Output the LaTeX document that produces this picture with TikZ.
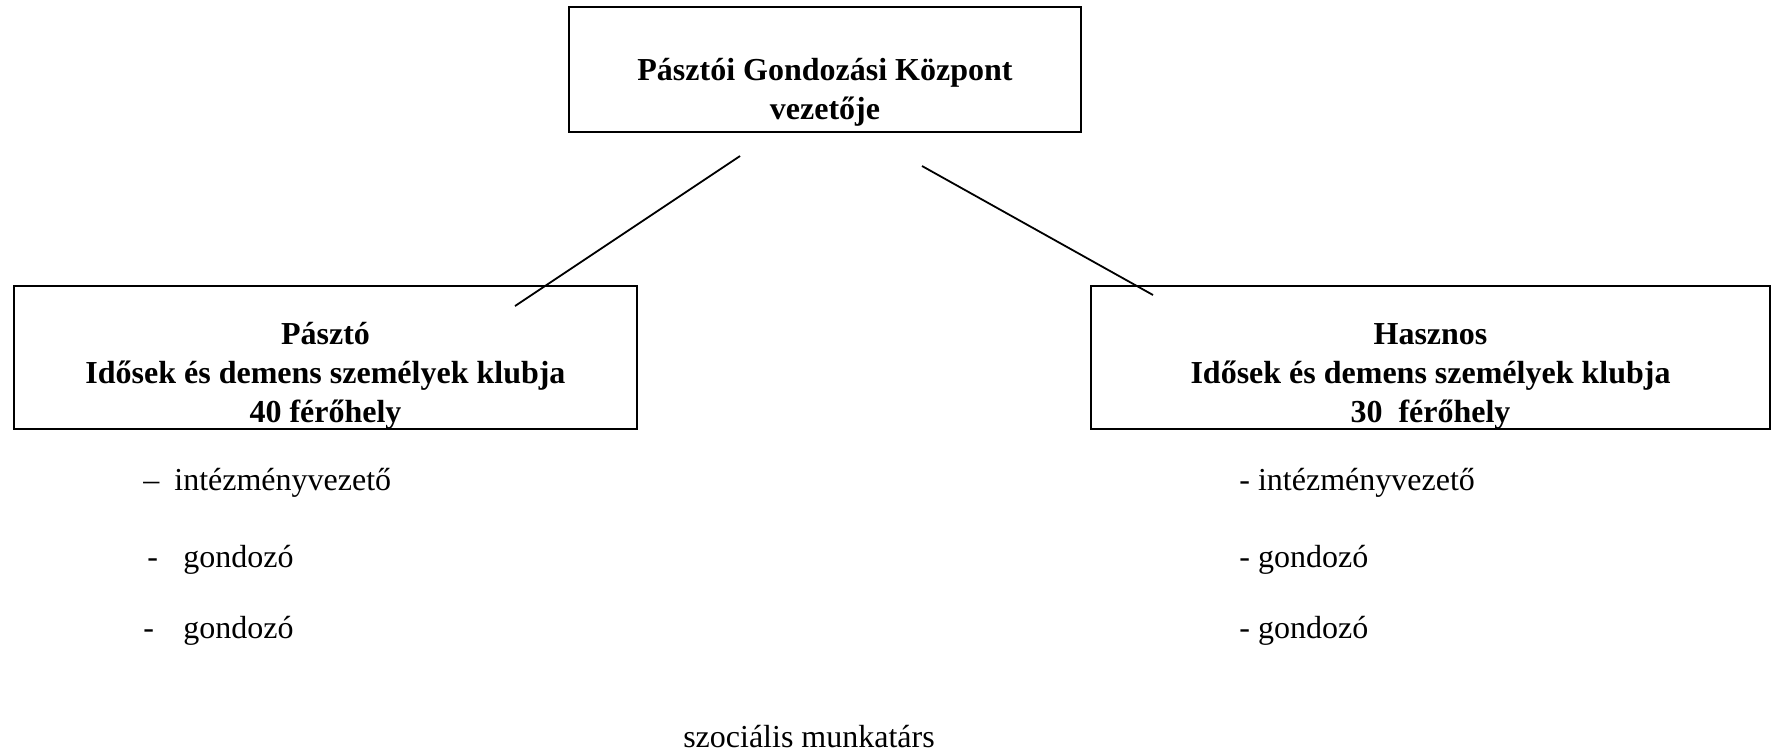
\documentclass[tikz,border=0pt]{standalone}
\usepackage{fontspec}
\setmainfont{Liberation Serif}
\begin{document}
\begin{tikzpicture}[x=0.5pt,y=-0.5pt,
 box/.style={draw, line width=1.2pt, inner sep=0pt},
 bt/.style={font=\fontsize{16}{19.5}\selectfont\bfseries, align=center, inner sep=0pt},
 it/.style={font=\fontsize{16}{19}\selectfont, anchor=base west, inner sep=0pt},
 conn/.style={line width=0.9pt}]
\useasboundingbox (0,0) rectangle (1771,752);
% boxes
\node[box, minimum width=256pt, minimum height=62.5pt] (top) at (825,69.5) {};
\node[bt] (toptext) at (825,92) {Pásztói Gondozási Központ\\vezetője};
\node[box, minimum width=311.5pt, minimum height=71.5pt] (left) at (325.5,357.5) {};
\node[bt] (lefttext) at (325.5,376) {Pásztó\\Idősek és demens személyek klubja\\40 férőhely};
\node[box, minimum width=339.5pt, minimum height=71.5pt] (right) at (1430.5,357.5) {};
\node[bt] (righttext) at (1430.5,376) {Hasznos\\Idősek és demens személyek klubja\\30\ \ férőhely};
% connectors
\coordinate (la) at (740,156);
\coordinate (lb) at (515,306);
\coordinate (ra) at (922,166);
\coordinate (rb) at (1153,295);
\draw[conn] (la) -- (lb);
\draw[conn] (ra) -- (rb);
% left list
\node[it] (l1) at (143,490) {\makebox[15.5pt][l]{–}intézményvezető};
\node[it] (l2) at (147,567) {\makebox[18pt][l]{-}gondozó};
\node[it] (l3) at (143,638) {\makebox[20pt][l]{-}gondozó};
% right list
\node[it] (r1) at (1239,490) {- intézményvezető};
\node[it] (r2) at (1239,567) {- gondozó};
\node[it] (r3) at (1239,638) {- gondozó};
% bottom
\node[it, anchor=base] (szoc) at (809,747) {szociális munkatárs};
\end{tikzpicture}
\end{document}
